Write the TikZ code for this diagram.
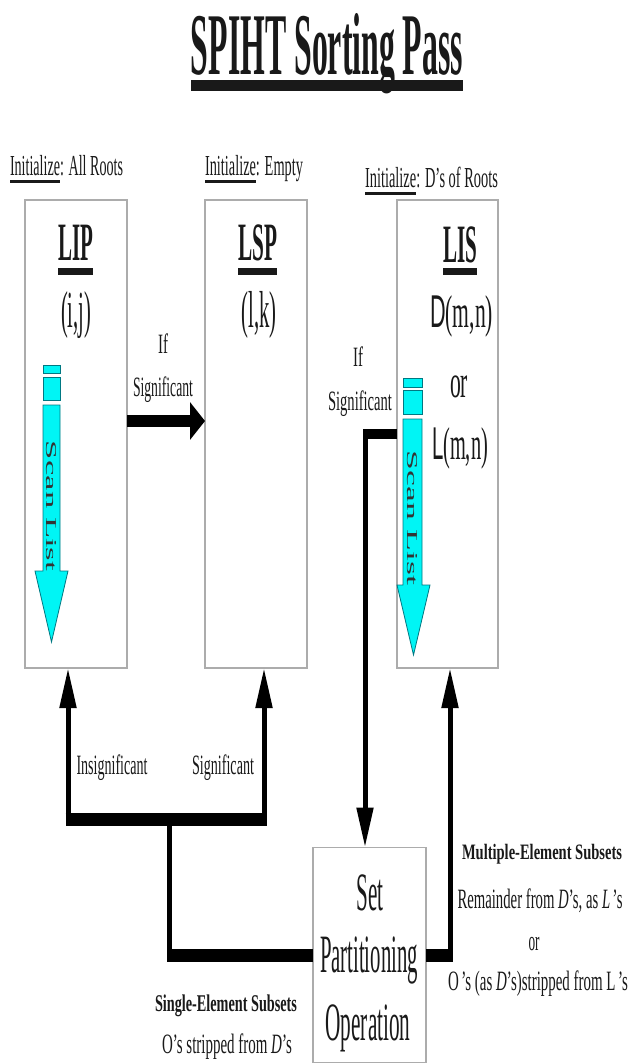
\documentclass[tikz,border=0pt]{standalone}
\usepackage{fontspec}
\setmainfont{Liberation Serif}
\newfontfamily\sansf{Liberation Sans}
\usetikzlibrary{arrows.meta}
% text squeezed to a given width at a given size
\newcommand\fitw[3]{\resizebox{#1}{\height}{\fontsize{#2}{#2}\selectfont #3}}
% heavy underline: #1 depth of its lower edge, #2 thickness
\newsavebox\ulbox
\newcommand\ulbar[3]{\sbox\ulbox{#3}\rlap{\rule[-#1]{\wd\ulbox}{#2}}\usebox\ulbox}
\definecolor{scan}{RGB}{0,245,245}
\definecolor{scanline}{RGB}{0,120,130}
\begin{document}
\begin{tikzpicture}[x=1pt,y=-1pt,
  listbox/.style={draw=gray!65,line width=1.3pt,fill=white,inner sep=0pt,outer sep=0pt},
  txt/.style={inner sep=0pt,outer sep=0pt,anchor=base,text=black!90},
  scanbar/.style={fill=scan,draw=scanline,line width=0.8pt},
  fat/.style={line width=12pt,-{Triangle[length=15pt 0,width=37pt 0]}},
  bar/.style={line width=#1},
  up/.style={line width=5pt,-{Triangle[length=40pt 0,width=16pt 0]}}]
\useasboundingbox (0,0) rectangle (631,1064);
\fill[white] (0,0) rectangle (631,1064);

% title
\node[txt] (title) at (327,75) {\fitw{272pt}{88}{\bfseries\ulbar{16pt}{11pt}{SPIHT Sorting Pass}}};

% initial contents of the three lists
\node[txt] (init1) at (66.5,176) {\fitw{113pt}{29}{\ulbar{7pt}{3pt}{Initialize}: All Roots}};
\node[txt] (init2) at (254,176) {\fitw{98pt}{29}{\ulbar{7pt}{3pt}{Initialize}: Empty}};
\node[txt] (init3) at (431.5,188) {\fitw{133pt}{29}{\ulbar{7pt}{3pt}{Initialize}: D’s of Roots}};

% the lists
\node[listbox,minimum width=102pt,minimum height=468pt] (lip) at (76,434) {};
\node[listbox,minimum width=102pt,minimum height=468pt] (lsp) at (256,434) {};
\node[listbox,minimum width=101pt,minimum height=468pt] (lis) at (447.5,434) {};
\node[listbox,minimum width=113pt,minimum height=215pt] (spo) at (369.5,955) {};

\node[txt] (lipT) at (75.5,261) {\fitw{35pt}{54}{\bfseries\ulbar{14pt}{7pt}{LIP}}};
\node[txt] (lspT) at (257.5,261) {\fitw{39pt}{54}{\bfseries\ulbar{14pt}{7pt}{LSP}}};
\node[txt] (lisT) at (460,262) {\fitw{34pt}{54}{\bfseries\ulbar{13pt}{7pt}{LIS}}};
\node[txt] (ij) at (76,327) {\fitw{30pt}{52}{(i,j)}};
\node[txt] (lk) at (259,327) {\fitw{35pt}{52}{(l,k)}};
\node[txt] (dmn) at (461.5,327) {\fitw{63pt}{46}{{\sansf D}(m,n)}};
\node[txt] (or1) at (459,397) {\fitw{18pt}{46}{or}};
\node[txt] (lmn) at (460,459) {\fitw{56pt}{46}{{\sansf L}(m,n)}};

% scan direction through LIP
\filldraw[scanbar] (43,365) rectangle (60,373);
\filldraw[scanbar] (43,377) rectangle (60,400);
\filldraw[scanbar] (43,405) -- (60,405) -- (60,571) -- (68,571) -- (51.5,642) -- (35,571) -- (43,571) -- cycle;
\node[inner sep=0pt,rotate=-90,text=black!80] (scan1) at (51.5,506) {\resizebox{130pt}{10pt}{\fontsize{20}{20}\selectfont Scan List}};

% scan direction through LIS
\filldraw[scanbar] (403,378) rectangle (422,387);
\filldraw[scanbar] (403,390) rectangle (422,414);
\filldraw[scanbar] (403,419) -- (422,419) -- (422,585) -- (430,585) -- (413.5,655) -- (397,585) -- (403,585) -- cycle;
\node[inner sep=0pt,rotate=-90,text=black!80] (scan2) at (412.5,518) {\resizebox{134pt}{10pt}{\fontsize{20}{20}\selectfont Scan List}};

% LIP -> LSP
\node[txt] (if1) at (163,353) {\fitw{10pt}{28}{If}};
\node[txt] (sig1) at (163,396) {\fitw{60pt}{28}{Significant}};
\draw[fat] ([yshift=13pt]lip.east) -- ([yshift=13pt]lsp.west);

% LIS -> set partitioning
\node[txt] (if2) at (358,366) {\fitw{10pt}{28}{If}};
\node[txt] (sig2) at (360,410) {\fitw{64pt}{28}{Significant}};
\coordinate (ja) at (365,434);
\draw[bar=10pt] (lis.west) -- ([xshift=-2.5pt]ja);
\draw[up] ([yshift=5pt]ja) -- (ja |- spo.north);

% set partitioning box
\node[txt] (set) at (370,910) {\fitw{27pt}{54}{Set}};
\node[txt] (part) at (369,972) {\fitw{98pt}{54}{Partitioning}};
\node[txt] (oper) at (368,1040) {\fitw{85pt}{54}{Operation}};

% single-element subsets back to LIP / LSP
\coordinate (jb) at (169,955);
\coordinate (jc) at (169,819);
\coordinate (jd) at (68,819);
\coordinate (je) at (264,819);
\draw[bar=13pt] (spo.west) -- ([xshift=-2.5pt]jb);
\draw[bar=5pt] (jb) -- (jc);
\draw[bar=13pt] ([xshift=-2.5pt]jd) -- ([xshift=2.5pt]je);
\draw[up] (jd) -- (jd |- lip.south);
\draw[up] (je) -- (je |- lsp.south);
\node[txt] (insig) at (112,774) {\fitw{71pt}{28}{Insignificant}};
\node[txt] (sig3) at (223,774) {\fitw{62pt}{28}{Significant}};

% multiple-element subsets back to LIS
\coordinate (jf) at (450,955);
\draw[bar=13pt] (spo.east) -- ([xshift=2.5pt]jf);
\draw[up] ([yshift=-6pt]jf) -- (jf |- lis.south);

\node[txt] (multi) at (542,859) {\fitw{160pt}{22}{\bfseries Multiple-Element Subsets}};
\node[txt] (rem) at (540,908) {\fitw{165pt}{28}{Remainder from \textit{D}’s, as \textit{L}\,’s}};
\node[txt] (or2) at (534,950) {\fitw{11pt}{28}{or}};
\node[txt] (ostrip) at (538,990) {\fitw{180pt}{28}{O\,’s (as \textit{D}’s)stripped from L\,’s}};

\node[txt] (single) at (226,1011) {\fitw{142pt}{24}{\bfseries Single-Element Subsets}};
\node[txt] (ostrip2) at (227,1053) {\fitw{130pt}{28}{O’s stripped from \textit{D}’s}};
\end{tikzpicture}
\end{document}
